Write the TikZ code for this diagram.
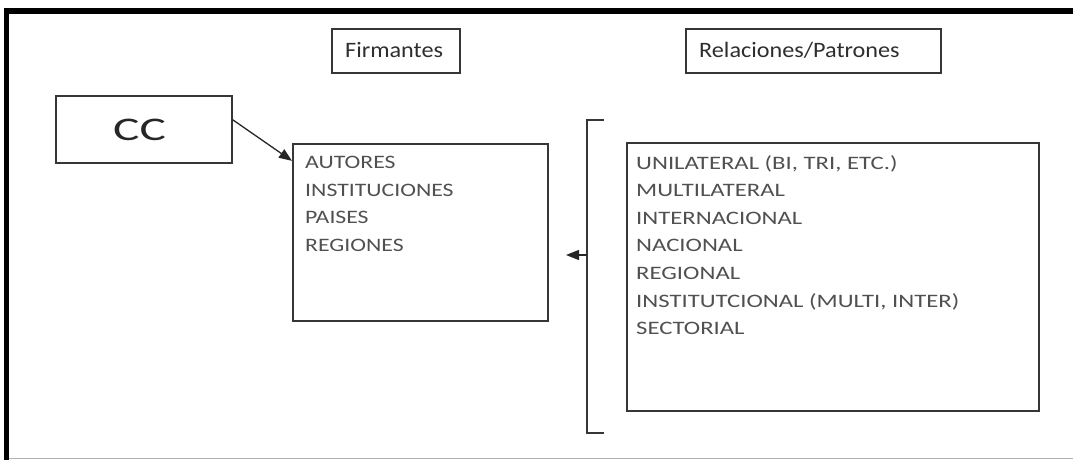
\documentclass[tikz,border=0pt]{standalone}
\usepackage{fontspec}
\setmainfont{Carlito}
\newfontfamily\headfont{Carlito}[FakeStretch=1.1]
\newfontfamily\listfont{Carlito}[FakeStretch=1.25]
\newfontfamily\widelistfont{Carlito}[FakeStretch=1.3]
\newfontfamily\ccfont{Carlito}[FakeStretch=1.5]
\usetikzlibrary{arrows.meta,calc}
\definecolor{boxline}{HTML}{363636}
\definecolor{listtext}{HTML}{505050}
\definecolor{headtext}{HTML}{2E2E2E}
\tikzset{
  box/.style={draw=boxline, line width=1.6pt, inner sep=0pt, anchor=north west},
  headbox/.style={box, minimum height=44pt},
  headlabel/.style={anchor=base west, inner sep=0pt, text=headtext,
    font=\headfont\fontsize{22}{24}\selectfont},
  listlabel/.style={anchor=north west, inner sep=0pt, align=left, text=listtext,
    font=\listfont\fontsize{19}{27.6}\selectfont},
  widelistlabel/.style={listlabel, font=\widelistfont\fontsize{19}{27.6}\selectfont},
  link/.style={draw=black!85, line width=1.3pt,
    -{Triangle[length=13pt,width=10pt]}},
  frameline/.style={line width=5.5pt, black}
}
\begin{document}
\begin{tikzpicture}[x=1pt,y=-1pt]
\useasboundingbox (0,0) rectangle (1073,460);

% page frame
\draw[frameline] (6.5,460) -- (6.5,11) -- (1073,11);
\draw[black!30, line width=1pt] (9,458.5) -- (1073,458.5);

% column headings
\node[headbox, minimum width=128pt] (firm) at (331,28) {};
\node[headlabel] (firmtxt) at (345,57) {Firmantes};
\node[headbox, minimum width=255pt] (rel) at (685,28) {};
\node[headlabel] (reltxt) at (699,57) {Relaciones/Patrones};

% CC box
\node[box, minimum width=176pt, minimum height=67pt] (cc) at (55,95) {};
\node[anchor=base west, inner sep=0pt, text=black!85,
      font=\ccfont\fontsize{33}{35}\selectfont] (cctxt) at (113,140) {CC};

% signatories box
\node[box, minimum width=255pt, minimum height=177pt] (aut) at (292,143) {};
\node[listlabel] (auttxt) at (305,156) {AUTORES\\INSTITUCIONES\\PAISES\\REGIONES};

% relations box
\node[box, minimum width=412pt, minimum height=268pt] (pat) at (626,142) {};
\node[widelistlabel] (pattxt) at (636,155) {UNILATERAL (BI, TRI, ETC.)\\MULTILATERAL\\INTERNACIONAL\\NACIONAL\\REGIONAL\\INSTITUTCIONAL (MULTI, INTER)\\SECTORIAL};

% arrow from CC to signatories
\draw[link] ($(cc.north east)!0.36!(cc.south east)$) -- ($(aut.north west)!0.1!(aut.south west)$);

% bracket grouping the relations, with its arrow
\coordinate (brtop) at (604,120);
\coordinate (brbot) at (604,433);
\coordinate (brmid) at (587,255);
\coordinate (brtip) at (566,255);
\draw[boxline, line width=1.6pt] (brtop) -- (587,120) -- (587,433) -- (brbot);
\draw[link] (brmid) -- (brtip);
\end{tikzpicture}
\end{document}
